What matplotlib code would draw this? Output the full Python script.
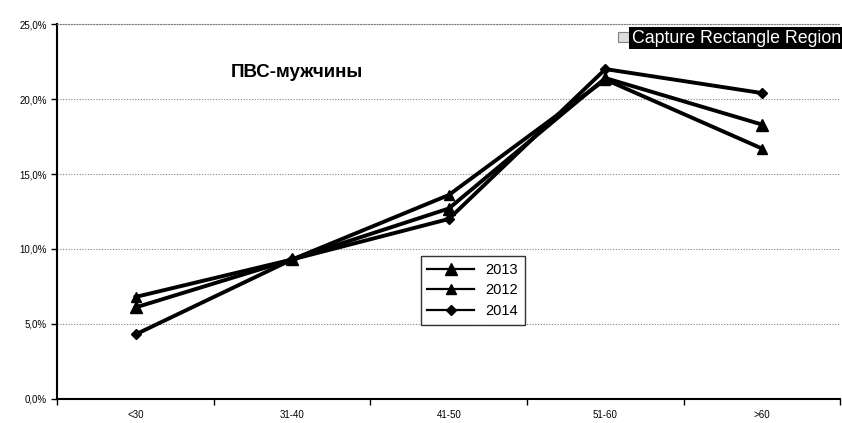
import matplotlib.pyplot as plt
from matplotlib.ticker import FuncFormatter, FixedLocator

plt.rcParams["font.family"] = ["Liberation Sans", "DejaVu Sans"]

categories = ["<30", "31-40", "41-50", "51-60", ">60"]
y2013 = [6.1, 9.3, 12.7, 21.4, 18.3]
y2012 = [6.8, 9.3, 13.6, 21.3, 16.7]
y2014 = [4.3, 9.3, 12.0, 22.0, 20.4]

fig = plt.figure(figsize=(8.42, 4.23), dpi=100)
ax = fig.add_axes([0.068, 0.057, 0.93, 0.886])

x = range(len(categories))
ax.plot(x, y2013, color="black", lw=2.8, marker="^", ms=9, label="2013")
ax.plot(x, y2012, color="black", lw=2.8, marker="^", ms=7, label="2012")
ax.plot(x, y2014, color="black", lw=2.8, marker="D", ms=5, label="2014")

ax.set_xlim(-0.5, len(categories) - 0.5)
ax.set_ylim(0, 25)
ax.set_xticks(list(x))
ax.set_xticklabels(categories, fontsize=7)
ax.xaxis.set_minor_locator(FixedLocator([i - 0.5 for i in range(len(categories) + 1)]))
ax.tick_params(axis="x", which="major", length=0, pad=8)
ax.tick_params(axis="x", which="minor", length=4, direction="out", width=1)
ax.set_yticks([0, 5, 10, 15, 20, 25])
ax.yaxis.set_major_formatter(FuncFormatter(lambda v, p: f"{v:.1f}%".replace(".", ",")))
ax.tick_params(axis="y", labelsize=7, length=4, width=1)
ax.yaxis.grid(True, color="gray", linestyle=(0, (1, 1.5)), lw=0.8)
ax.set_axisbelow(True)
ax.spines["right"].set_visible(False)
ax.spines["top"].set_color("gray")
ax.spines["top"].set_linestyle((0, (1, 1.5)))
ax.spines["left"].set_linewidth(1.5)
ax.spines["bottom"].set_linewidth(1.5)

ax.text(0.222, 0.87, "ПВС-мужчины", transform=ax.transAxes, fontsize=13.5,
        fontweight="bold", ha="left", va="center")

leg = ax.legend(loc="upper left", bbox_to_anchor=(0.455, 0.4), fontsize=10.5,
                frameon=True, fancybox=False, edgecolor="black",
                handlelength=3.2, labelspacing=0.45, borderpad=0.45)
leg.get_frame().set_linewidth(1)
for h in leg.get_lines():
    h.set_linewidth(1.6)

fig.text(0.75, 0.91, "Capture Rectangle Region", fontsize=12.8, color="white",
         ha="left", va="center",
         bbox=dict(boxstyle="square,pad=0.12", facecolor="black", edgecolor="none"))
fig.patches.append(plt.Rectangle((0.734, 0.9), 0.013, 0.024, transform=fig.transFigure,
                                 facecolor="#dddddd", edgecolor="gray", lw=0.8))

fig.savefig("out.png", dpi=100)
